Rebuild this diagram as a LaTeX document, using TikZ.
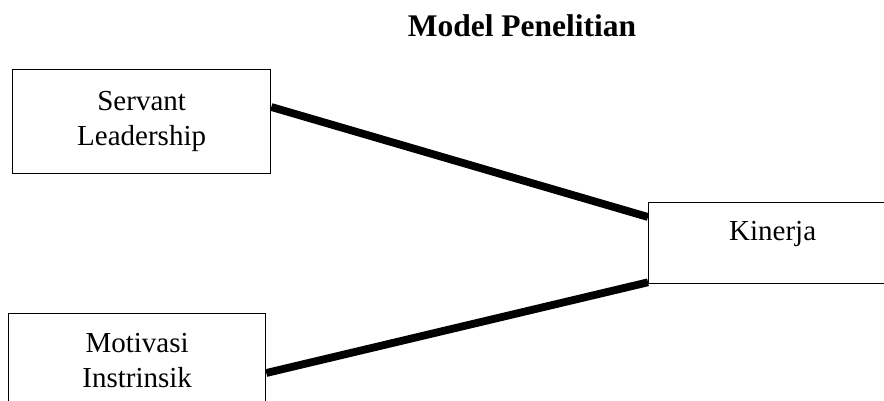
\documentclass[tikz,border=0pt]{standalone}
\usepackage{fontspec}
\setmainfont{Liberation Serif}
\usetikzlibrary{calc}
\tikzset{
  boxnode/.style={draw=black, line width=1.3pt, rectangle, align=center, inner xsep=0pt, inner ysep=0pt,
    font=\fontsize{29}{35}\selectfont},
  link/.style={draw=black, line width=7.8pt},
  titlenode/.style={font=\fontsize{31.5}{36}\selectfont\bfseries, inner sep=0pt, anchor=base}
}
\begin{document}
\begin{tikzpicture}[x=1pt,y=-1pt]
\useasboundingbox (0,0) rectangle (884,401);
\fill[white] (0,0) rectangle (884,401);
\begin{scope}
\clip (0,0) rectangle (884,401);
\node[titlenode] (title) at (522,37) {Model Penelitian};
\node[boxnode, minimum width=258pt, minimum height=104pt, anchor=north west] (sl) at (12,69) {Servant\\Leadership};
\node[boxnode, minimum width=248pt, text height=38pt, text depth=43pt, anchor=north west] (k) at (648,202) {Kinerja};
\node[boxnode, minimum width=257pt, minimum height=94pt, anchor=north west] (mi) at (8,313) {Motivasi\\Instrinsik};
\draw[link] ($(sl.north east)+(0,38)$) -- ($(k.north west)+(0,15)$);
\draw[link] ($(mi.north east)+(0,60)$) -- ($(k.south west)+(0,-2)$);
\end{scope}
\end{tikzpicture}
\end{document}
